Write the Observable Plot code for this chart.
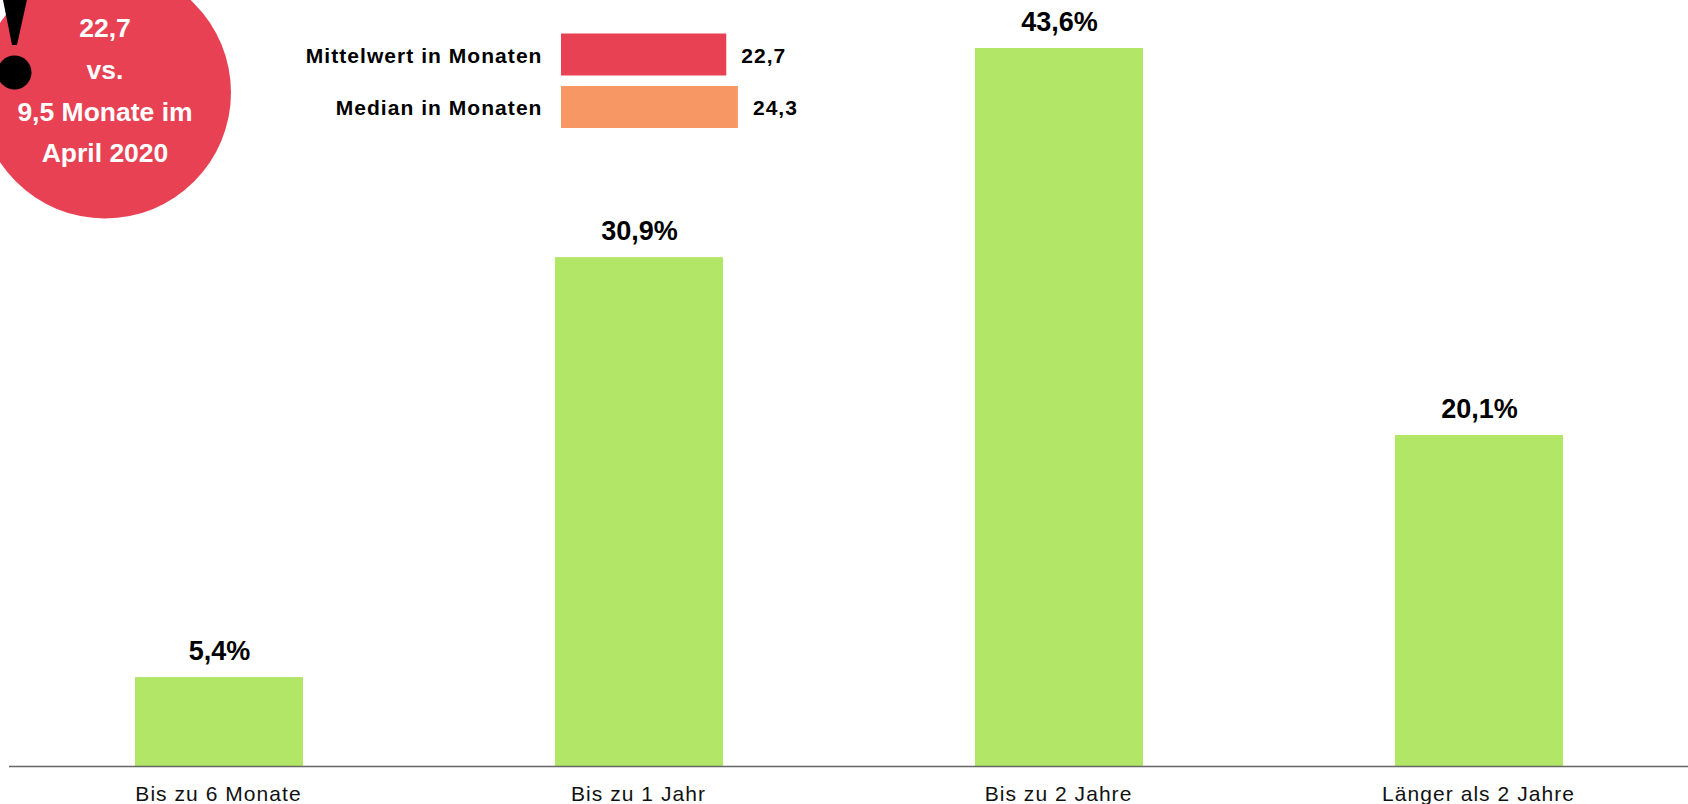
<!DOCTYPE html>
<html lang="de"><head><meta charset="utf-8">
<script src="https://cdn.jsdelivr.net/npm/d3@7"></script>
<script src="https://cdn.jsdelivr.net/npm/@observablehq/plot@0.6"></script>
<style>
html,body{margin:0;padding:0;background:#fff;overflow:hidden}
#stage{position:relative;width:1688px;height:804px;font-family:"Liberation Sans",Arial,sans-serif}
#stage svg{position:absolute;left:0;top:0;background:transparent;overflow:hidden}
g[aria-label="x-axis tick label"] text{letter-spacing:1.05px}
g[aria-label="value"] text{letter-spacing:0.7px}
</style></head><body><div id="stage"></div>
<script>
const categories = ["Bis zu 6 Monate","Bis zu 1 Jahr","Bis zu 2 Jahre","Länger als 2 Jahre"];
const shares = [5.4,30.9,43.6,20.1];
const shareLabels = ["5,4%","30,9%","43,6%","20,1%"];
const legendNames = ["Mittelwert in Monaten","Median in Monaten"];
const legendValues = [22.7,24.3];
const legendLabels = ["22,7","24,3"];
const calloutLines = ["22,7","vs.","9,5 Monate im","April 2020"];
const font = '"Liberation Sans",Arial,sans-serif';
const stage = document.getElementById("stage");
const rows = categories.map((c,i)=>({c,v:shares[i],l:shareLabels[i]}));

stage.append(Plot.plot({
  width:1688,height:804,marginLeft:9,marginRight:0,marginTop:48,marginBottom:38,
  style:{fontFamily:font,background:"transparent"},
  x:{domain:categories,range:[9,1689],round:false,paddingInner:0.6,paddingOuter:0.3,label:null},
  y:{domain:[0,43.6],label:null},
  marks:[
    Plot.barY(rows,{x:"c",y:"v",fill:"#B2E667"}),
    Plot.ruleY([0],{stroke:"#666",strokeWidth:1.5}),
    Plot.text(rows,{x:"c",y:"v",text:"l",dy:-26,fontSize:27,fontWeight:"bold",fill:"#000",lineAnchor:"middle",ariaLabel:"value"}),
    Plot.axisY({ticks:[],label:null}),
    Plot.axisX({tickSize:0,tickPadding:20,fontSize:21,dx:-1,fill:"#111",label:null})
  ]
}));

const legendRows = legendNames.map((n,i)=>({n,v:legendValues[i],l:legendLabels[i],c:i?"#F79764":"#E84154"}));
stage.append(Plot.plot({
  width:1688,height:804,marginLeft:561,marginRight:0,marginTop:33.5,marginBottom:676,
  style:{fontFamily:font,background:"transparent",letterSpacing:"1.05px"},
  x:{domain:[0,(1688-561)/7.28],label:null,axis:null},
  y:{domain:legendNames,round:false,paddingInner:0.2,paddingOuter:0,label:null,axis:null},
  marks:[
    Plot.barX(legendRows,{y:"n",x:"v",fill:d=>d.c}),
    Plot.text(legendRows,{y:"n",x:0,text:"n",textAnchor:"end",dx:-19,dy:1,fontSize:21,fontWeight:"bold",fill:"#000"}),
    Plot.text(legendRows,{y:"n",x:"v",text:"l",textAnchor:"start",dx:14.5,dy:1,fontSize:21,fontWeight:"bold",fill:"#000"})
  ]
}));

const wedge = [{y:-5,a:2,b:28},{y:45,a:12,b:17}];
stage.append(Plot.plot({
  width:1688,height:804,margin:0,
  style:{fontFamily:font,background:"transparent"},
  x:{domain:[0,1688],range:[0,1688],label:null,axis:null},
  y:{domain:[0,804],range:[0,804],label:null,axis:null},
  marks:[
    Plot.dot([{x:104.5,y:92}],{x:"x",y:"y",r:126,fill:"#E84154"}),
    Plot.areaX(wedge,{y:"y",x1:"a",x2:"b",fill:"#000"}),
    Plot.dot([{x:14,y:72}],{x:"x",y:"y",r:17,fill:"#000"}),
    Plot.text(calloutLines,{x:()=>104.5,y:(d,i)=>28.5+i*41.6,text:d=>d,fontSize:26.5,fontWeight:"bold",fill:"#fff"})
  ]
}));
</script></body></html>
